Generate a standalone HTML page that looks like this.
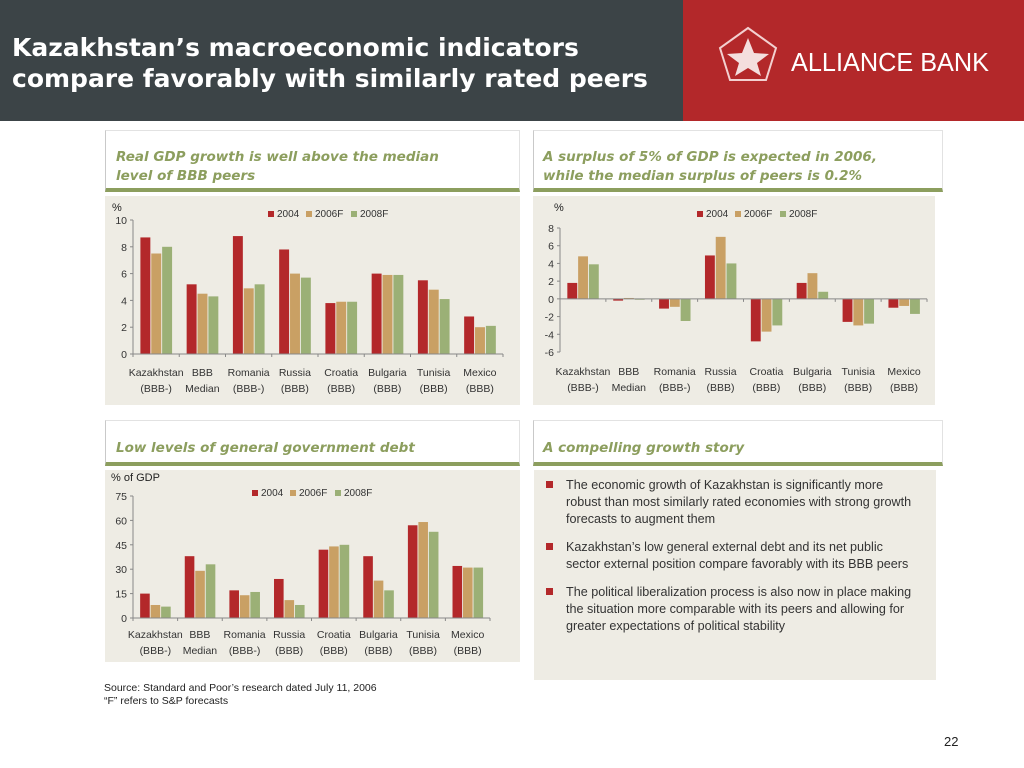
<!DOCTYPE html>
<html><head><meta charset="utf-8">
<style>
body{margin:0;width:1024px;height:768px;position:relative;background:#fff;font-family:"Liberation Sans",sans-serif;overflow:hidden}
.abs{position:absolute}
.hdr{left:0;top:0;width:683px;height:121px;background:#3c4447}
.red{left:683px;top:0;width:341px;height:121px;background:#b3282a}
.title{left:12px;top:32px;color:#fff;font-weight:bold;font-size:25px;line-height:31px;font-family:"DejaVu Sans","Liberation Sans",sans-serif}
.ptitle{color:#8c9e5e;font-style:italic;font-weight:bold;font-size:13.5px;line-height:19px;font-family:"DejaVu Sans","Liberation Sans",sans-serif}
.frame{border-left:1px solid #c9c9c9;border-top:1px solid #e2e2e2;border-right:1px solid #e2e2e2;border-bottom:4px solid #8c9e5e;box-sizing:border-box}
.bullets{left:534px;top:470px;width:402px;height:210px;background:#eeece4}
.bl{position:absolute;left:32px;width:352px;font-size:12.6px;line-height:17px;color:#333}
.sq{position:absolute;left:-20px;top:4px;width:7px;height:7px;background:#b3282a}
</style></head><body>
<div class="abs hdr"></div>
<div class="abs red">
<svg width="341" height="121">
<polygon points="65,28 93,48 83,80 47,80 37,48" fill="none" stroke="#f3d0d0" stroke-width="2"/>
<polygon points="65,38 71,53 86,54 74,63 78,76 65,68 52,76 56,63 44,54 59,53" fill="#f4dede"/>
<text x="108" y="71" fill="#fff" font-size="26" textLength="198" lengthAdjust="spacingAndGlyphs" font-family="Liberation Sans,sans-serif">ALLIANCE BANK</text>
</svg></div>
<div class="abs title">Kazakhstan’s macroeconomic indicators<br>compare favorably with similarly rated peers</div>

<div class="abs frame" style="left:105px;top:130px;width:415px;height:62px"></div>
<div class="abs ptitle" style="left:116px;top:148px">Real GDP growth is well above the median<br>level of BBB peers</div>
<div class="abs frame" style="left:533px;top:130px;width:410px;height:62px"></div>
<div class="abs ptitle" style="left:543px;top:148px">A surplus of 5% of GDP is expected in 2006,<br>while the median surplus of peers is 0.2%</div>
<div class="abs frame" style="left:105px;top:420px;width:415px;height:46px"></div>
<div class="abs ptitle" style="left:116px;top:439px">Low levels of general government debt</div>
<div class="abs frame" style="left:533px;top:420px;width:410px;height:46px"></div>
<div class="abs ptitle" style="left:543px;top:439px">A compelling growth story</div>

<div class="abs bullets">
<div class="bl" style="top:7px"><span class="sq"></span>The economic growth of Kazakhstan is significantly more<br>robust than most similarly rated economies with strong growth<br>forecasts to augment them</div>
<div class="bl" style="top:69px"><span class="sq"></span>Kazakhstan’s low general external debt and its net public<br>sector external position compare favorably with its BBB peers</div>
<div class="bl" style="top:114px"><span class="sq"></span>The political liberalization process is also now in place making<br>the situation more comparable with its peers and allowing for<br>greater expectations of political stability</div>
</div>

<div class="abs" style="left:104px;top:682px;font-size:10.5px;line-height:13px;color:#222">Source: Standard and Poor’s research dated July 11, 2006<br>“F” refers to S&amp;P forecasts</div>
<div class="abs" style="left:944px;top:734px;font-size:13px;color:#222">22</div>

<svg id="charts" class="abs" style="left:0;top:0" width="1024" height="768"></svg>
<script>
const categories1=["Kazakhstan","BBB","Romania","Russia","Croatia","Bulgaria","Tunisia","Mexico"];
const categories2=["(BBB-)","Median","(BBB-)","(BBB)","(BBB)","(BBB)","(BBB)","(BBB)"];
const seriesNames=["2004","2006F","2008F"];
const colors=["#b3282a","#c9a064","#9bb076"];
const gdp2004=[8.7,5.2,8.8,7.8,3.8,6.0,5.5,2.8];
const gdp2006=[7.5,4.5,4.9,6.0,3.9,5.9,4.8,2.0];
const gdp2008=[8.0,4.3,5.2,5.7,3.9,5.9,4.1,2.1];
const gdpTicks=[0,2,4,6,8,10];
const bal2004=[1.8,-0.2,-1.1,4.9,-4.8,1.8,-2.6,-1.0];
const bal2006=[4.8,0.1,-0.9,7.0,-3.7,2.9,-3.0,-0.8];
const bal2008=[3.9,-0.1,-2.5,4.0,-3.0,0.8,-2.8,-1.7];
const balTicks=[-6,-4,-2,0,2,4,6,8];
const debt2004=[15,38,17,24,42,38,57,32];
const debt2006=[8,29,14,11,44,23,59,31];
const debt2008=[7,33,16,8,45,17,53,31];
const debtTicks=[0,15,30,45,60,75];
const NS="http://www.w3.org/2000/svg";
const svg=document.getElementById('charts');
function mk(tag,attrs,parent){const e=document.createElementNS(NS,tag);for(const k in attrs)e.setAttribute(k,attrs[k]);(parent||svg).appendChild(e);return e;}
function chart(o){
  const g=mk('g',{});
  
  
  mk('rect',{x:o.bg[0],y:o.bg[1],width:o.bg[2],height:o.bg[3],fill:'#eeece4'},g);
  const min=o.ticks[0],max=o.ticks[o.ticks.length-1];
  const y=v=>o.y0-(v-min)/(max-min)*(o.y0-o.y1);
  const n=categories1.length,gw=(o.x1-o.x0)/n;
  const x=i=>o.x0+i*gw;
  const bw=gw*0.215,gap=gw*0.02;
  o.ticks.forEach(t=>{
    const tx=mk('text',{x:o.x0-6,y:y(t)+4,'text-anchor':'end','font-size':10.5,fill:'#333'},g);tx.textContent=t;
    mk('line',{x1:o.x0-3,x2:o.x0,y1:y(t),y2:y(t),stroke:'#888'},g);
  });
  const t0=o.zero!==undefined?o.zero:min;
  o.series.forEach((s,si)=>{
    s.forEach((v,i)=>{
      const bx=x(i)+gw*0.16+si*(bw+gap);
      const r=mk('rect',{x:bx,y:Math.min(y(v),y(t0)),width:bw,height:Math.abs(y(v)-y(t0)),fill:colors[si]},g);
      
      
    });
  });
  mk('line',{x1:o.x0,x2:o.x0,y1:y(max),y2:y(min),stroke:'#888'},g);
  mk('line',{x1:o.x0,x2:o.x1,y1:y(t0),y2:y(t0),stroke:'#888'},g);
  for(let i=0;i<=n;i++)mk('line',{x1:x(i),x2:x(i),y1:y(t0),y2:y(t0)+3,stroke:'#888'},g);
  categories1.forEach((c,i)=>{
    const a=mk('text',{x:x(i)+gw/2,y:o.ly,'text-anchor':'middle','font-size':10.5,fill:'#333'},g);a.textContent=c;
    const b=mk('text',{x:x(i)+gw/2,y:o.ly+16,'text-anchor':'middle','font-size':10.5,fill:'#333'},g);b.textContent=categories2[i];
  });
  const u=mk('text',{x:o.unit[0],y:o.unit[1],'font-size':11,fill:'#222'},g);u.textContent=o.unitText;
  let lx=o.leg[0];
  seriesNames.forEach((s,si)=>{
    mk('rect',{x:lx,y:o.leg[1]-6,width:6,height:6,fill:colors[si]},g);
    const t=mk('text',{x:lx+9,y:o.leg[1],'font-size':10,fill:'#333'},g);t.textContent=s;
    lx+=si==0?38:45;
  });
}
chart({name:'gdp-growth-chart',bg:[105,196,415,209],x0:133,x1:503,y0:354,y1:220,ticks:gdpTicks,series:[gdp2004,gdp2006,gdp2008],ly:376,unit:[112,211],unitText:'%',leg:[268,217]});
chart({name:'fiscal-balance-chart',bg:[533,196,402,209],x0:560,x1:927,y0:352,y1:228,ticks:balTicks,zero:0,series:[bal2004,bal2006,bal2008],ly:375,unit:[554,211],unitText:'%',leg:[697,217]});
chart({name:'government-debt-chart',bg:[105,470,415,192],x0:133,x1:490,y0:618,y1:496,ticks:debtTicks,series:[debt2004,debt2006,debt2008],ly:638,unit:[111,481],unitText:'% of GDP',leg:[252,496]});
</script>
</body></html>
